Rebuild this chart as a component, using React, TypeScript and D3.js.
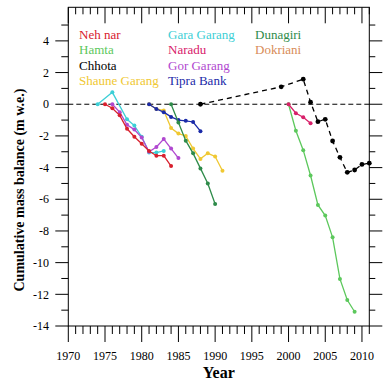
import React from "react";
import * as d3 from "d3";

const nehNarYears = [1975, 1976, 1977, 1978, 1979, 1980, 1981, 1982, 1983, 1984];
const nehNarValues = [0, -0.25, -0.7, -1.55, -2.05, -2.5, -2.95, -3.25, -3.25, -3.9];

const garaYears = [1974, 1976, 1978, 1979, 1980, 1981, 1982, 1983];
const garaValues = [0, 0.75, -0.95, -1.35, -2.05, -3.05, -3.05, -2.95];

const gorYears = [1976, 1977, 1978, 1979, 1980, 1981, 1982, 1983, 1984, 1985];
const gorValues = [0, -0.5, -1.3, -1.6, -2.1, -3.0, -2.7, -2.2, -2.8, -3.4];

const shauneYears = [1981, 1982, 1983, 1984, 1985, 1986, 1987, 1988, 1989, 1990, 1991];
const shauneValues = [0, -0.3, -0.4, -1.5, -1.85, -2.0, -2.8, -3.45, -3.1, -3.3, -4.2];

const tipraYears = [1981, 1982, 1983, 1984, 1985, 1986, 1987, 1988];
const tipraValues = [0, -0.3, -0.5, -0.8, -1.0, -1.05, -1.12, -1.7];

const dunagiriYears = [1984, 1985, 1986, 1987, 1988, 1989, 1990];
const dunagiriValues = [0, -1.15, -2.3, -3.1, -4.05, -5.0, -6.3];

const chhotaYears = [1988, 1999, 2002, 2003, 2004, 2005, 2006, 2007, 2008, 2009, 2010, 2011];
const chhotaValues = [0, 1.1, 1.58, 0.13, -1.1, -0.95, -2.32, -3.35, -4.3, -4.15, -3.8, -3.72];

const naraduYears = [2000, 2001, 2002, 2003];
const naraduValues = [0, -0.57, -0.82, -1.2];

const hamtaYears = [2000, 2001, 2002, 2003, 2004, 2005, 2006, 2007, 2008, 2009];
const hamtaValues = [0, -1.67, -2.9, -4.5, -6.36, -7.03, -8.4, -11.03, -12.36, -13.1];

const legendCol1 = ["Neh nar", "Hamta", "Chhota", "Shaune Garang"];
const legendCol2 = ["Gara Garang", "Naradu", "Gor Garang", "Tipra Bank"];
const legendCol3 = ["Dunagiri", "Dokriani"];

const yLabelTicks = [4, 2, 0, -2, -4, -6, -8, -10, -12, -14];
const xLabelTicks = [1970, 1975, 1980, 1985, 1990, 1995, 2000, 2005, 2010];

const colors: Record<string, string> = {
  "Neh nar": "#d8202e",
  Hamta: "#5cc85c",
  Chhota: "#000000",
  "Shaune Garang": "#f0c832",
  "Gara Garang": "#3ccfd6",
  Naradu: "#d8206a",
  "Gor Garang": "#b048d0",
  "Tipra Bank": "#1a2aa8",
  Dunagiri: "#2e8b4a",
  Dokriani: "#d88c58",
};

const series = [
  { name: "Gara Garang", years: garaYears, values: garaValues, dashed: false },
  { name: "Gor Garang", years: gorYears, values: gorValues, dashed: false },
  { name: "Neh nar", years: nehNarYears, values: nehNarValues, dashed: false },
  { name: "Shaune Garang", years: shauneYears, values: shauneValues, dashed: false },
  { name: "Tipra Bank", years: tipraYears, values: tipraValues, dashed: false },
  { name: "Dunagiri", years: dunagiriYears, values: dunagiriValues, dashed: false },
  { name: "Hamta", years: hamtaYears, values: hamtaValues, dashed: false },
  { name: "Naradu", years: naraduYears, values: naraduValues, dashed: false },
  { name: "Chhota", years: chhotaYears, values: chhotaValues, dashed: true },
];

const FONT = "Liberation Serif, Times New Roman, DejaVu Serif, serif";

export default function App() {
  const W = 385;
  const H = 380;
  const left = 68.3;
  const right = 369.3;
  const top = 7.3;
  const bottom = 326;
  const x = d3.scaleLinear().domain([1970, 2011]).range([left, right]);
  const y = d3.scaleLinear().domain([-14, 6.12]).range([bottom, top]);

  const yMinor = d3.range(-14, 6, 1);
  const xMinor = d3.range(1970, 2012, 1);

  const line = d3
    .line<[number, number]>()
    .x((d) => x(d[0]))
    .y((d) => y(d[1]));

  const ts = { fontFamily: FONT };

  return (
    <svg
      width={W}
      height={H}
      style={{ position: "absolute", left: 0, top: 0, background: "#fff", fontFamily: FONT }}
    >
      <line x1={left} x2={right} y1={y(0)} y2={y(0)} stroke="#000" strokeWidth={1} strokeDasharray="5,3" />

      {series.map((s) => {
        const pts = s.years.map((yr, i) => [yr, s.values[i]] as [number, number]);
        return (
          <g key={s.name}>
            <path
              d={line(pts) || ""}
              fill="none"
              stroke={colors[s.name]}
              strokeWidth={1.3}
              strokeDasharray={s.dashed ? "5,4" : undefined}
            />
            {pts.map((p, i) => (
              <circle key={i} cx={x(p[0])} cy={y(p[1])} r={s.dashed ? 2.4 : 2} fill={colors[s.name]} />
            ))}
          </g>
        );
      })}

      <rect x={left} y={top} width={right - left} height={bottom - top} fill="none" stroke="#000" strokeWidth={1} />

      {yMinor.map((v) => {
        const major = v % 2 === 0;
        return (
          <line key={"l" + v} x1={left} x2={left - (major ? 13 : 7)} y1={y(v)} y2={y(v)} stroke="#000" strokeWidth={1} />
        );
      })}
      {yMinor.map((v) => {
        const major = v % 2 === 0;
        return (
          <line key={"r" + v} x1={right} x2={right + (major ? 13 : 6)} y1={y(v)} y2={y(v)} stroke="#000" strokeWidth={1} />
        );
      })}
      {xMinor.map((v) => {
        const major = v % 5 === 0;
        return (
          <line key={"b" + v} x1={x(v)} x2={x(v)} y1={bottom} y2={bottom + (major ? 16 : 8)} stroke="#000" strokeWidth={1} />
        );
      })}
      {xMinor.map((v) => {
        const major = v % 5 === 0;
        return (
          <line key={"t" + v} x1={x(v)} x2={x(v)} y1={top} y2={top + (major ? 16 : 7)} stroke="#000" strokeWidth={1} />
        );
      })}

      {yLabelTicks.map((v) => (
        <text key={"yl" + v} x={49} y={y(v)} dy="0.35em" textAnchor="end" fontSize={12} style={ts}>
          {v}
        </text>
      ))}
      {xLabelTicks.map((v) => (
        <text key={"xl" + v} x={x(v)} y={360} textAnchor="middle" fontSize={12} style={ts}>
          {v}
        </text>
      ))}

      <text x={(left + right) / 2} y={378} textAnchor="middle" fontSize={16} fontWeight="bold" style={ts}>
        Year
      </text>
      <text
        transform={`translate(24,190) rotate(-90)`}
        textAnchor="middle"
        fontSize={14}
        fontWeight="bold"
        style={ts}
      >
        Cumulative mass balance (m w.e.)
      </text>

      {legendCol1.map((n, i) => (
        <text key={n} x={79} y={38.5 + i * 15.6} fontSize={13} fill={colors[n]} style={ts}>
          {n}
        </text>
      ))}
      {legendCol2.map((n, i) => (
        <text key={n} x={168} y={38.5 + i * 15.6} fontSize={13} fill={colors[n]} style={ts}>
          {n}
        </text>
      ))}
      {legendCol3.map((n, i) => (
        <text key={n} x={255} y={38.5 + i * 15.6} fontSize={13} fill={colors[n]} style={ts}>
          {n}
        </text>
      ))}
    </svg>
  );
}
